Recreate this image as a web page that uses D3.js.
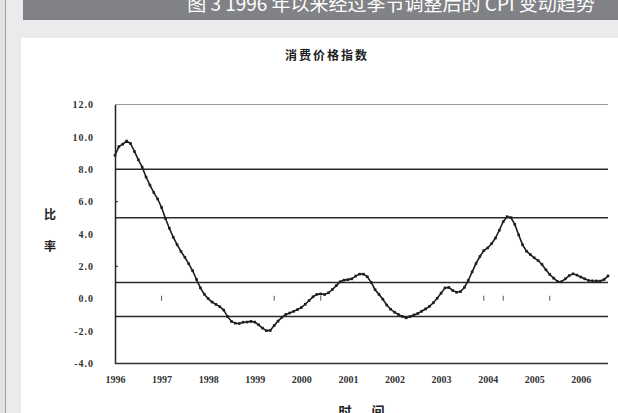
<!DOCTYPE html>
<html>
<head>
<meta charset="utf-8">
<script src="https://cdn.jsdelivr.net/npm/d3@7"></script>
<style>
  body { margin: 0; background: #fff; }
  svg { display: block; }
</style>
</head>
<body>
<div id="chart"></div>
<script>
// texts
const caption = "图 3 1996 年以来经过季节调整后的 CPI 变动趋势";
const chartTitle = "消费价格指数";
const yTitle = ["比", "率"];
const xTitle = ["时", "间"];

// axes
const yearLabels = ["1996", "1997", "1998", "1999", "2000", "2001", "2002", "2003", "2004", "2005", "2006"];
const yTicks = [12, 10, 8, 6, 4, 2, 0, -2, -4];
const gridValues = [8, 5, 1, -1.1];      // the horizontal rules that survive in the scan
const innerTickValues = [6, 2];          // small marks on the value axis
const axisDashMonths = [12, 41, 53, 95, 100, 112]; // tick marks left on the zero line

// monthly values, Jan 1996 to Aug 2006
const cpi = [
  8.86, 9.40, 9.55, 9.74, 9.59, 9.10, 8.59, 8.13, 7.52, 7.02, 6.56, 6.16,
  5.64, 4.96, 4.36, 3.80, 3.34, 2.92, 2.56, 2.16, 1.73, 1.19, 0.67, 0.28,
  0.01, -0.20, -0.35, -0.49, -0.70, -1.10, -1.40, -1.51, -1.53, -1.45, -1.44, -1.40,
  -1.44, -1.61, -1.81, -1.97, -1.96, -1.66, -1.38, -1.15, -0.97, -0.88, -0.78, -0.67,
  -0.54, -0.34, -0.11, 0.12, 0.27, 0.30, 0.26, 0.37, 0.57, 0.81, 1.05, 1.15,
  1.18, 1.23, 1.40, 1.52, 1.52, 1.36, 1.01, 0.56, 0.27, -0.03, -0.39, -0.65,
  -0.83, -0.97, -1.09, -1.18, -1.10, -1.00, -0.91, -0.77, -0.63, -0.47, -0.25, 0.03,
  0.34, 0.67, 0.70, 0.51, 0.40, 0.44, 0.70, 1.13, 1.66, 2.18, 2.61, 2.97,
  3.14, 3.40, 3.75, 4.23, 4.76, 5.07, 5.01, 4.59, 3.94, 3.33, 2.94, 2.73,
  2.53, 2.36, 2.12, 1.79, 1.50, 1.27, 1.07, 1.05, 1.23, 1.43, 1.54, 1.46,
  1.34, 1.23, 1.13, 1.11, 1.10, 1.09, 1.19, 1.41
];

const width = 618, height = 413;
const plot = { left: 115, right: 608, top: 104.5, bottom: 363.5 };
const cjk = "'Noto Sans CJK SC', sans-serif";
const serif = "'Liberation Serif', 'DejaVu Serif', serif";

const svg = d3.select("#chart").append("svg")
  .attr("width", width)
  .attr("height", height);

// page background, caption bar and the white panel
svg.append("rect").attr("width", width).attr("height", height).attr("fill", "#ebebed");
svg.append("rect").attr("width", 5).attr("height", height).attr("fill", "#e2e2e4");
svg.append("line").attr("x1", 5.5).attr("x2", 5.5).attr("y1", 0).attr("y2", height)
  .attr("stroke", "#a0a0a4").attr("stroke-width", 1);
svg.append("rect").attr("x", 23).attr("y", 0).attr("width", width - 23).attr("height", 20)
  .attr("fill", "#818286");
svg.append("text")
  .attr("x", 391).attr("y", 11)
  .attr("text-anchor", "middle")
  .attr("font-family", cjk).attr("font-size", 19)
  .attr("fill", "#fff")
  .text(caption);
svg.append("rect").attr("x", 21).attr("y", 38).attr("width", width - 21).attr("height", height - 38)
  .attr("fill", "#fff");

const x = d3.scaleLinear().domain([0, cpi.length - 1]).range([plot.left, plot.right]);
const y = d3.scaleLinear().domain([-4, 12]).range([plot.bottom, plot.top]);

// title
svg.append("text")
  .attr("x", 327).attr("y", 60)
  .attr("text-anchor", "middle")
  .attr("font-family", cjk).attr("font-size", 12).attr("font-weight", "bold")
  .attr("letter-spacing", 2)
  .attr("fill", "#222")
  .text(chartTitle);

// top rule
svg.append("line")
  .attr("x1", plot.left).attr("x2", plot.right)
  .attr("y1", y(12)).attr("y2", y(12))
  .attr("stroke", "#9a9a9a").attr("stroke-width", 1.2);

// horizontal rules
svg.append("g").selectAll("line")
  .data(gridValues)
  .join("line")
  .attr("x1", plot.left).attr("x2", plot.right)
  .attr("y1", d => y(d)).attr("y2", d => y(d))
  .attr("stroke", "#2a2a2a").attr("stroke-width", 1.4);

// small marks on the value axis
svg.append("g").selectAll("line")
  .data(innerTickValues)
  .join("line")
  .attr("x1", plot.left).attr("x2", plot.left + 3)
  .attr("y1", d => y(d)).attr("y2", d => y(d))
  .attr("stroke", "#444").attr("stroke-width", 1.2);

// tick marks on the zero line
svg.append("g").selectAll("line")
  .data(axisDashMonths)
  .join("line")
  .attr("x1", d => x(d)).attr("x2", d => x(d))
  .attr("y1", y(0) - 3).attr("y2", y(0) + 2)
  .attr("stroke", "#555").attr("stroke-width", 1);

// value axis
const yAxis = d3.axisLeft(y)
  .tickValues(yTicks)
  .tickSize(0)
  .tickPadding(21)
  .tickFormat(d => d.toFixed(1));
const gy = svg.append("g")
  .attr("transform", `translate(${plot.left},0)`)
  .call(yAxis);
gy.select(".domain").attr("stroke", "#222").attr("stroke-width", 1.5);
gy.selectAll("text")
  .attr("font-family", serif).attr("font-size", 10).attr("font-weight", "bold")
  .attr("fill", "#333").attr("letter-spacing", 1);

// category axis, labels every 12 months
const xAxis = d3.axisBottom(x)
  .tickValues(yearLabels.map((d, i) => i * 12))
  .tickSize(0)
  .tickPadding(12)
  .tickFormat((d, i) => yearLabels[i]);
const gx = svg.append("g")
  .attr("transform", `translate(0,${plot.bottom})`)
  .call(xAxis);
gx.select(".domain").remove();
gx.selectAll("text")
  .attr("font-family", serif).attr("font-size", 10).attr("font-weight", "bold")
  .attr("fill", "#333");
svg.append("line")
  .attr("x1", plot.left).attr("x2", plot.right)
  .attr("y1", plot.bottom).attr("y2", plot.bottom)
  .attr("stroke", "#333").attr("stroke-width", 1.3);
svg.append("line")
  .attr("x1", plot.left + 0.5).attr("x2", plot.left + 0.5)
  .attr("y1", plot.bottom).attr("y2", plot.bottom - 4)
  .attr("stroke", "#333").attr("stroke-width", 1);

// axis titles
svg.append("g").selectAll("text")
  .data(yTitle)
  .join("text")
  .attr("x", 50).attr("y", (d, i) => 219 + i * 32)
  .attr("text-anchor", "middle")
  .attr("font-family", cjk).attr("font-size", 12).attr("font-weight", "bold")
  .attr("fill", "#222")
  .text(d => d);
svg.append("g").selectAll("text")
  .data(xTitle)
  .join("text")
  .attr("x", (d, i) => 345 + i * 33).attr("y", 416)
  .attr("text-anchor", "middle")
  .attr("font-family", cjk).attr("font-size", 13).attr("font-weight", "bold")
  .attr("fill", "#222")
  .text(d => d);

// the series
const line = d3.line()
  .x((d, i) => x(i))
  .y(d => y(d));
svg.append("path")
  .datum(cpi)
  .attr("d", line)
  .attr("fill", "none")
  .attr("stroke", "#1e1e1e")
  .attr("stroke-width", 1.6);
svg.append("g").selectAll("rect")
  .data(cpi)
  .join("rect")
  .attr("x", (d, i) => x(i) - 1.3)
  .attr("y", d => y(d) - 1.3)
  .attr("width", 2.6).attr("height", 2.6)
  .attr("fill", "#1e1e1e");
</script>
</body>
</html>
